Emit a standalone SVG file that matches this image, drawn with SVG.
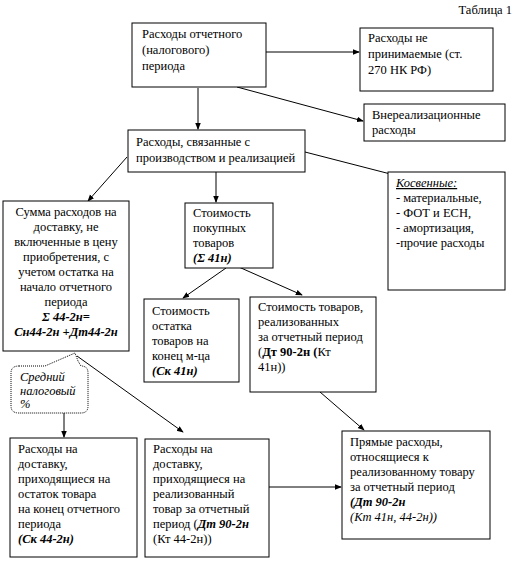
<svg xmlns="http://www.w3.org/2000/svg" width="517" height="564" viewBox="0 0 517 564" font-family="Liberation Serif, Tinos, DejaVu Serif, serif">
<style>
text{font-family:'Liberation Serif','DejaVu Serif',serif;font-size:12.5px;fill:#000}
.b{fill:#fff;stroke:#000;stroke-width:1}
.c{stroke:#000;stroke-width:1;fill:none}
.bi{font-weight:bold;font-style:italic}
.i{font-style:italic}
.bo{font-weight:bold}
</style>
<defs>
<marker id="ar" viewBox="0 0 8 8" refX="7" refY="4" markerWidth="7" markerHeight="7" orient="auto" markerUnits="userSpaceOnUse">
<path d="M0,0.8 L8,4 L0,7.2 Z" fill="#000"/>
</marker>
</defs>
<rect width="517" height="564" fill="#fff"/>
<text x="512" y="14" text-anchor="end">Таблица 1</text>

<g id="connectors">
<line class="c" x1="266" y1="52" x2="359" y2="52" marker-end="url(#ar)"/>
<line class="c" x1="237" y1="87" x2="363" y2="121" marker-end="url(#ar)"/>
<line class="c" x1="198" y1="88" x2="198" y2="129" marker-end="url(#ar)"/>
<line class="c" x1="127" y1="157" x2="88" y2="201" marker-end="url(#ar)"/>
<line class="c" x1="216" y1="172" x2="216" y2="202" marker-end="url(#ar)"/>
<line class="c" x1="305" y1="152" x2="437" y2="186" marker-end="url(#ar)"/>
<line class="c" x1="226" y1="268" x2="183" y2="298" marker-end="url(#ar)"/>
<line class="c" x1="232" y1="264" x2="302" y2="295" marker-end="url(#ar)"/>
<line class="c" x1="320" y1="392" x2="364" y2="430" marker-end="url(#ar)"/>
<line class="c" x1="269" y1="487" x2="341" y2="487" marker-end="url(#ar)"/>
<line class="c" x1="77" y1="356" x2="183" y2="432" marker-end="url(#ar)"/>
<line class="c" x1="64" y1="413" x2="64" y2="437" marker-end="url(#ar)"/>
</g>

<g id="n-period">
<rect class="b" x="132" y="23" width="134" height="64"/>
<text x="142" y="38">Расходы отчетного</text>
<text x="142" y="54">(налогового)</text>
<text x="142" y="70">периода</text>
</g>

<g id="n-nonaccepted">
<rect class="b" x="360" y="28" width="133" height="63"/>
<text x="368" y="42">Расходы не</text>
<text x="368" y="58">принимаемые (ст.</text>
<text x="368" y="74">270 НК РФ)</text>
</g>

<g id="n-nonsales">
<rect class="b" x="364" y="104" width="141" height="37"/>
<text x="372" y="119">Внереализационные</text>
<text x="372" y="134">расходы</text>
</g>

<g id="n-production">
<rect class="b" x="128" y="130" width="177" height="42"/>
<text x="136" y="146">Расходы, связанные с</text>
<text x="136" y="162">производством и реализацией</text>
</g>

<g id="n-delivery-sum">
<rect class="b" x="3" y="201" width="126" height="150"/>
<text x="66" y="216" text-anchor="middle">Сумма расходов на</text>
<text x="66" y="231" text-anchor="middle">доставку, не</text>
<text x="66" y="246" text-anchor="middle">включенные в цену</text>
<text x="66" y="261" text-anchor="middle">приобретения, с</text>
<text x="66" y="276" text-anchor="middle">учетом остатка на</text>
<text x="66" y="291" text-anchor="middle">начало отчетного</text>
<text x="66" y="306" text-anchor="middle">периода</text>
<text x="66" y="321" text-anchor="middle" class="bi">Σ 44-2н=</text>
<text x="66" y="336" text-anchor="middle" class="bi">Сн44-2н +Дт44-2н</text>
</g>

<g id="n-purchased">
<rect class="b" x="185" y="203" width="88" height="65"/>
<text x="193" y="217">Стоимость</text>
<text x="193" y="232">покупных</text>
<text x="193" y="247"> товаров</text>
<text x="193" y="262" class="bi">(Σ 41н)</text>
</g>

<g id="n-indirect">
<rect class="b" x="388" y="172" width="117" height="118"/>
<text x="396" y="187" class="i" text-decoration="underline">Косвенные:</text>
<text x="396" y="202">- материальные,</text>
<text x="396" y="217">- ФОТ и ЕСН,</text>
<text x="396" y="232">- амортизация,</text>
<text x="396" y="247">-прочие расходы</text>
</g>

<g id="n-rest">
<rect class="b" x="144" y="299" width="95" height="83"/>
<text x="152" y="315">Стоимость</text>
<text x="152" y="330">остатка</text>
<text x="152" y="345">товаров на</text>
<text x="152" y="360">конец м-ца</text>
<text x="152" y="375" class="bi">(Ск 41н)</text>
</g>

<g id="n-sold">
<rect class="b" x="250" y="297" width="126" height="95"/>
<text x="258" y="311">Стоимость товаров,</text>
<text x="258" y="326">реализованных</text>
<text x="258" y="341">за отчетный период</text>
<text x="258" y="356"> (<tspan class="bo">Дт 90-2н (</tspan>Кт</text>
<text x="258" y="371">41н))</text>
</g>

<g id="n-callout">
<path d="M19,366 L45,366 L75,353 L78,361 L81,366 Q88,366 88,373 L88,406 Q88,413 81,413 L19,413 Q11,413 11,406 L11,373 Q11,366 19,366 Z" fill="#fff" stroke="#000" stroke-width="1" stroke-dasharray="1,1"/>
<text x="20" y="381" class="i" font-size="11">Средний</text>
<text x="20" y="395" class="i" font-size="11">налоговый</text>
<text x="20" y="408" class="i" font-size="11">%</text>
</g>

<g id="n-delivery-rest">
<rect class="b" x="10" y="438" width="127" height="119"/>
<text x="18" y="453">Расходы на</text>
<text x="18" y="468">доставку,</text>
<text x="18" y="483">приходящиеся на</text>
<text x="18" y="498">остаток товара</text>
<text x="18" y="513">на конец отчетного</text>
<text x="18" y="528">периода</text>
<text x="18" y="543" class="bi">(Ск 44-2н)</text>
</g>

<g id="n-delivery-sold">
<rect class="b" x="145" y="439" width="124" height="118"/>
<text x="153" y="453">Расходы на</text>
<text x="153" y="468">доставку,</text>
<text x="153" y="483">приходящиеся  на</text>
<text x="153" y="498">реализованный</text>
<text x="153" y="513">товар за отчетный</text>
<text x="153" y="528">период (<tspan class="bi">Дт 90-2н</tspan></text>
<text x="153" y="543">(Кт 44-2н))</text>
</g>

<g id="n-direct">
<rect class="b" x="342" y="431" width="148" height="108"/>
<text x="350" y="446">Прямые расходы,</text>
<text x="350" y="461">относящиеся к</text>
<text x="350" y="476">реализованному товару</text>
<text x="350" y="491">за отчетный период</text>
<text x="350" y="506" class="bi">(Дт 90-2н</text>
<text x="350" y="521" class="i">(Кт 41н, 44-2н))</text>
</g>
</svg>
